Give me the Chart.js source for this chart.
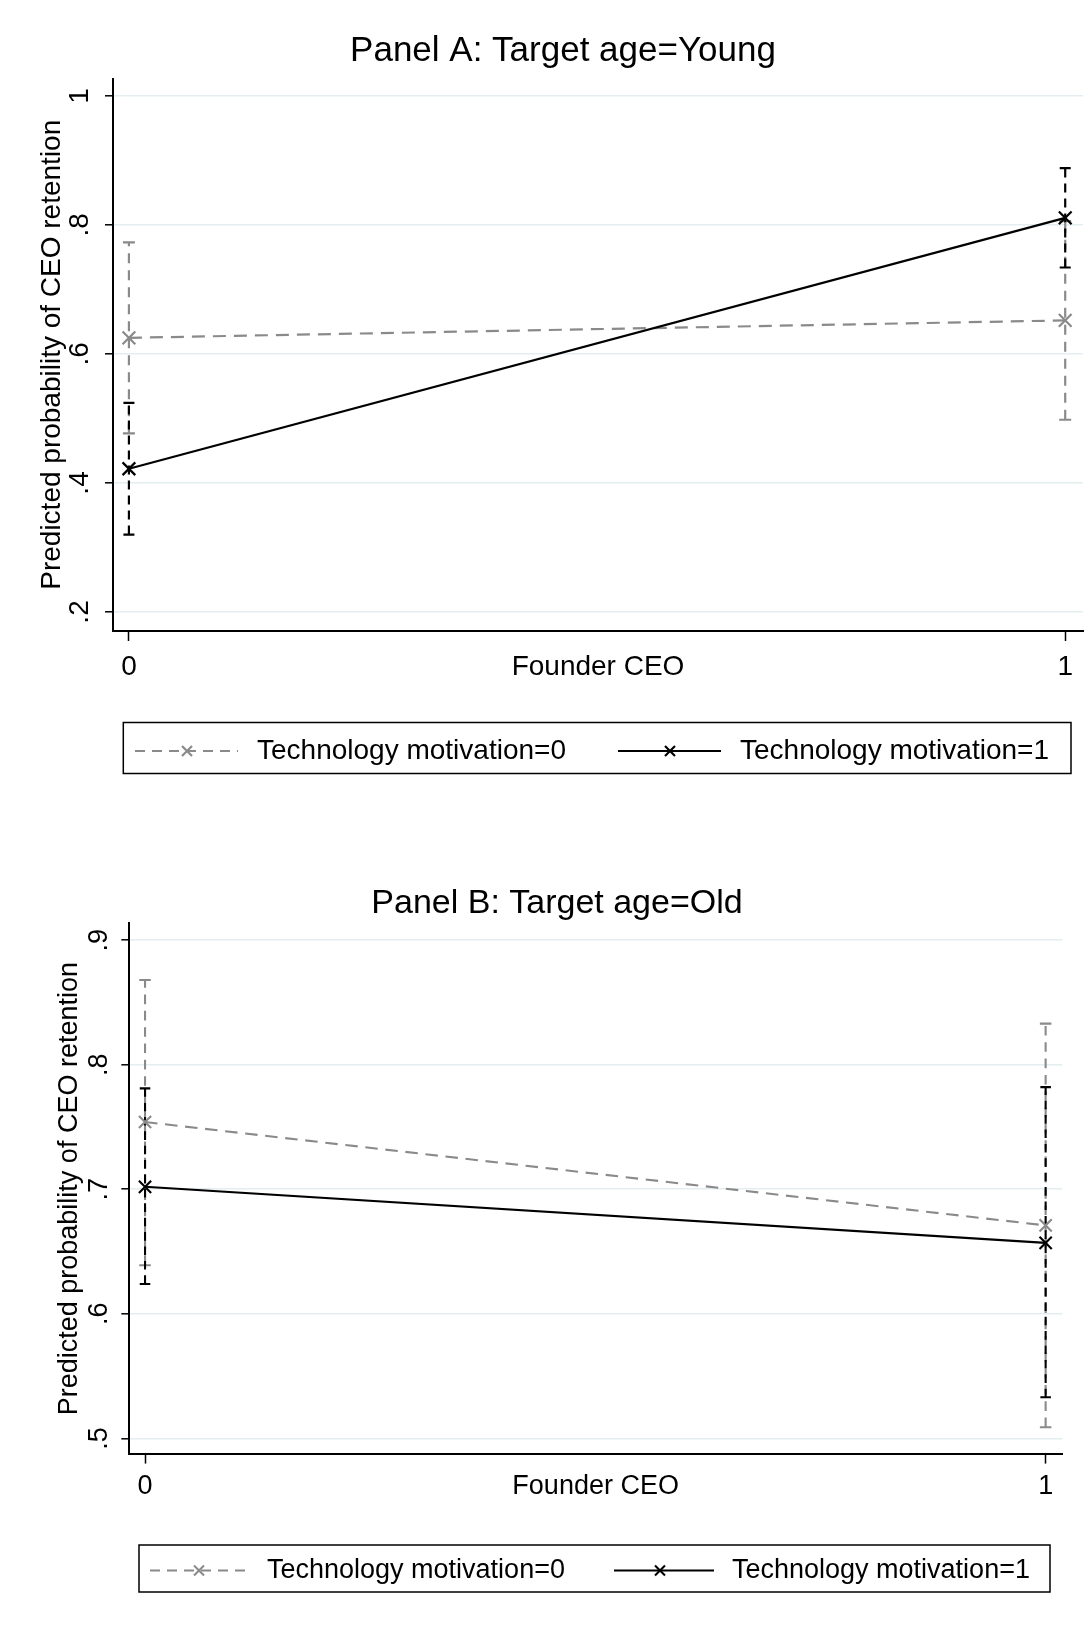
<!DOCTYPE html>
<html><head><meta charset="utf-8">
<script src="https://cdn.jsdelivr.net/npm/chart.js@4.4.1/dist/chart.umd.min.js"></script>
<style>
html,body{margin:0;padding:0;background:#fff;}
#wrap{position:relative;width:1089px;height:1640px;overflow:hidden;background:#fff;}
canvas{position:absolute;left:0;display:block;}
#cA{top:0;} #cB{top:820px;}
</style></head><body>
<div id="wrap"><canvas id="cA" width="1089" height="820"></canvas><canvas id="cB" width="1089" height="820"></canvas></div>
<script>
// ---------- data ----------
const founderCEO = [0, 1];
const xTickLabels = ['0', '1'];
const seriesNames = ['Technology motivation=0', 'Technology motivation=1'];
const panelTitles = ['Panel A: Target age=Young', 'Panel B: Target age=Old'];
const xAxisTitle = 'Founder CEO';
const yAxisTitle = 'Predicted probability of CEO retention';

const youngTech0   = [0.625, 0.652];
const youngTech0Lo = [0.477, 0.498];
const youngTech0Hi = [0.773, 0.806];
const youngTech1   = [0.422, 0.811];
const youngTech1Lo = [0.320, 0.734];
const youngTech1Hi = [0.524, 0.888];
const yTicksYoung = [0.2, 0.4, 0.6, 0.8, 1];
const yTickLabelsYoung = ['.2', '.4', '.6', '.8', '1'];

const oldTech0   = [0.754, 0.671];
const oldTech0Lo = [0.639, 0.509];
const oldTech0Hi = [0.868, 0.833];
const oldTech1   = [0.702, 0.657];
const oldTech1Lo = [0.624, 0.533];
const oldTech1Hi = [0.781, 0.782];
const yTicksOld = [0.5, 0.6, 0.7, 0.8, 0.9];
const yTickLabelsOld = ['.5', '.6', '.7', '.8', '.9'];

// ---------- helpers ----------
const FAMILY = '"Liberation Sans", Arial, Helvetica, sans-serif';
const GRAY = '#8a8a8a';
const BLACK = '#000000';

function pts(xs, ys) { return xs.map((x, i) => ({x: x, y: ys[i]})); }

function ciSets(xs, lo, hi, color, dash, capR, order, lw) {
  return xs.map((x, i) => ({
    label: '',
    data: [{x: x, y: lo[i]}, {x: x, y: hi[i]}],
    borderColor: color, borderWidth: lw, borderDash: dash,
    pointStyle: 'line', pointRadius: capR, pointHoverRadius: capR,
    pointBorderColor: color, pointBorderWidth: lw, pointBackgroundColor: color,
    fill: false, tension: 0, order: order
  }));
}

const stataLegend = {
  id: 'stataLegend',
  afterDraw(chart, args, o) {
    if (!o || !o.box) return;
    const ctx = chart.ctx;
    ctx.save();
    ctx.strokeStyle = '#000';
    ctx.lineWidth = o.boxLine;
    ctx.strokeRect(o.box[0], o.box[1], o.box[2] - o.box[0], o.box[3] - o.box[1]);
    o.items.forEach((it, i) => {
      const ds = chart.data.datasets[i];
      ctx.strokeStyle = ds.borderColor;
      ctx.lineWidth = o.lineWidth;
      ctx.setLineDash(it.dash);
      ctx.beginPath(); ctx.moveTo(it.from, o.y); ctx.lineTo(it.to, o.y); ctx.stroke();
      ctx.setLineDash([]);
      const m = o.marker;
      ctx.beginPath();
      ctx.moveTo(it.mark - m, o.y - m); ctx.lineTo(it.mark + m, o.y + m);
      ctx.moveTo(it.mark - m, o.y + m); ctx.lineTo(it.mark + m, o.y - m);
      ctx.stroke();
      ctx.fillStyle = '#000';
      ctx.font = o.fontSize + 'px ' + FAMILY;
      ctx.textBaseline = 'middle';
      ctx.textAlign = 'left';
      ctx.fillText(ds.label, it.textX, o.y);
    });
    ctx.restore();
  }
};

function makePanel(canvasId, p) {
  const s = p.s;
  const lw = 2.2 * s;
  const tech1 = {label: seriesNames[1], data: pts(founderCEO, p.t1), borderColor: BLACK, borderWidth: lw,
     pointStyle: 'crossRot', pointRadius: 9 * s, pointHoverRadius: 9 * s, pointBorderColor: BLACK,
     pointBorderWidth: lw, fill: false, tension: 0, order: 0};
  const tech0 = {label: seriesNames[0], data: pts(founderCEO, p.t0), borderColor: GRAY, borderWidth: lw, borderDash: [13 * s, 8 * s],
     pointStyle: 'crossRot', pointRadius: 9 * s, pointHoverRadius: 9 * s, pointBorderColor: GRAY,
     pointBorderWidth: lw, fill: false, tension: 0, order: 1};
  const datasets = [tech0, tech1]
    .concat(ciSets(founderCEO, p.t1Lo, p.t1Hi, BLACK, [9 * s, 6 * s], 5.5 * s, 2, lw))
    .concat(ciSets(founderCEO, p.t0Lo, p.t0Hi, GRAY, [10 * s, 7 * s], 6 * s, 3, lw));

  const tickFont = {family: FAMILY, size: p.fs, weight: 'normal'};
  return new Chart(document.getElementById(canvasId), {
    type: 'line',
    data: {datasets: datasets},
    plugins: [stataLegend],
    options: {
      responsive: false, animation: false, devicePixelRatio: 1, events: [],
      layout: {padding: p.pad, autoPadding: false},
      plugins: {
        legend: {display: false},
        tooltip: {enabled: false},
        title: {display: true, text: p.title, color: '#000',
                font: {family: FAMILY, size: p.titleFs, weight: 'normal', lineHeight: 1},
                padding: p.titlePad},
        stataLegend: p.legend
      },
      scales: {
        x: {
          type: 'linear', min: p.xMin, max: p.xMax,
          afterBuildTicks: sc => { sc.ticks = founderCEO.map(v => ({value: v})); },
          ticks: {callback: (v, i) => xTickLabels[i], font: tickFont, color: '#000',
                  padding: p.xTickPad, maxRotation: 0, minRotation: 0, autoSkip: false},
          grid: {drawOnChartArea: false, drawTicks: true, tickLength: 10 * s, tickColor: '#000', tickWidth: 1.5},
          border: {display: true, color: '#000', width: 2},
          title: {display: true, text: xAxisTitle, color: '#000', font: tickFont,
                  padding: {top: 0, bottom: p.xTitlePad}},
          afterFit: sc => { sc.height = 60; sc.paddingLeft = 0; sc.paddingRight = 0; }
        },
        y: {
          type: 'linear', min: p.yMin, max: p.yMax,
          afterBuildTicks: sc => { sc.ticks = p.yTicks.map(v => ({value: v})); },
          ticks: {callback: (v, i) => p.yTickLabels[i], font: tickFont, color: '#000',
                  minRotation: 90, maxRotation: 90, crossAlign: 'center', padding: p.yTickPad, autoSkip: false},
          grid: {color: '#e4edf0', lineWidth: 1.6, drawTicks: true, tickLength: 8 * s, tickColor: '#000', tickWidth: 1.5},
          border: {display: true, color: '#000', width: 2},
          title: {display: true, text: yAxisTitle, color: '#000', font: tickFont,
                  padding: {top: p.yTitlePad, bottom: 0}},
          afterFit: sc => { sc.width = p.yWidth; sc.paddingTop = 0; sc.paddingBottom = 0; }
        }
      }
    }
  });
}

makePanel('cA', {
  s: 1, fs: 28, titleFs: 35, title: panelTitles[0],
  t0: youngTech0, t0Lo: youngTech0Lo, t0Hi: youngTech0Hi,
  t1: youngTech1, t1Lo: youngTech1Lo, t1Hi: youngTech1Hi,
  yTicks: yTicksYoung, yTickLabels: yTickLabelsYoung,
  xMin: -0.017, xMax: 1.019, yMin: 0.1705, yMax: 1.027,
  pad: {left: 43, right: 6, top: 0, bottom: 129},
  titlePad: {top: 33.5, bottom: 10},
  yWidth: 70, yTickPad: 13.3, yTitlePad: -7.8,
  xTickPad: 9.5, xTitlePad: 6.9,
  legend: {box: [123.3, 722.5, 1071, 773.5], boxLine: 1.5, y: 751, lineWidth: 2.2, marker: 5, fontSize: 28,
           items: [{from: 135, to: 238, mark: 187, textX: 257, dash: [10, 7]},
                   {from: 618, to: 721, mark: 670, textX: 740, dash: []}]}
});

makePanel('cB', {
  s: 0.96, fs: 27, titleFs: 34, title: panelTitles[1],
  t0: oldTech0, t0Lo: oldTech0Lo, t0Hi: oldTech0Hi,
  t1: oldTech1, t1Lo: oldTech1Lo, t1Hi: oldTech1Hi,
  yTicks: yTicksOld, yTickLabels: yTickLabelsOld,
  xMin: -0.0178, xMax: 1.0185, yMin: 0.4875, yMax: 0.9135,
  pad: {left: 51.7, right: 26.7, top: 0, bottom: 126},
  titlePad: {top: 66.9, bottom: 2.4},
  yWidth: 77.3, yTickPad: 10.75, yTitlePad: 2.1,
  xTickPad: 7.2, xTitlePad: 10.8,
  legend: {box: [139, 725, 1050, 772], boxLine: 1.5, y: 750.5, lineWidth: 2.1, marker: 5, fontSize: 27,
           items: [{from: 150, to: 250, mark: 199, textX: 267, dash: [10, 7]},
                   {from: 614, to: 714, mark: 660, textX: 732, dash: []}]}
});
</script>
</body></html>
